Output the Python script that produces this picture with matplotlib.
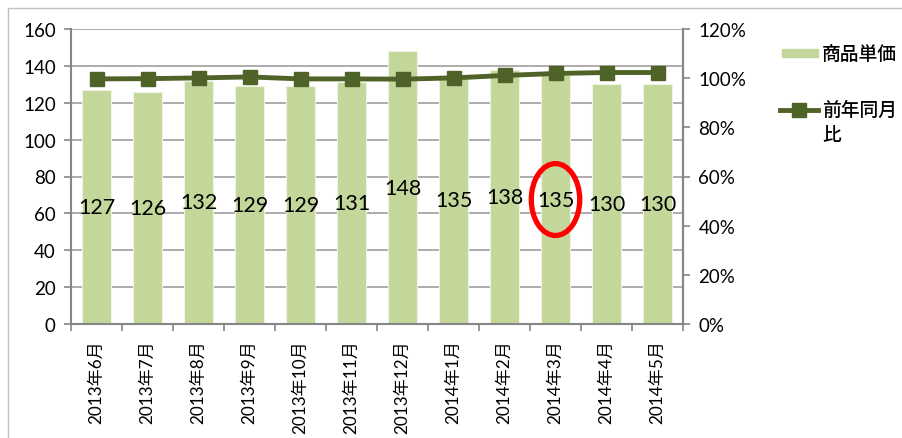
import matplotlib.pyplot as plt
import numpy as np
from matplotlib.patches import Ellipse, Rectangle

plt.rcParams["font.family"] = ["Lato", "Noto Sans CJK JP", "DejaVu Sans"]

months = ["2013年6月", "2013年7月", "2013年8月", "2013年9月", "2013年10月",
          "2013年11月", "2013年12月", "2014年1月", "2014年2月", "2014年3月",
          "2014年4月", "2014年5月"]
unit_price = [127, 126, 132, 129, 129, 131, 148, 135, 138, 135, 130, 130]
yoy_pct = [99.7, 99.8, 100.1, 100.5, 99.7, 99.7, 99.6, 100.1, 101.1, 101.9, 102.3, 102.3]

BAR_COLOR = "#c4d79b"
LINE_COLOR = "#4f6228"
GRID = "#a6a6a6"
SPINE = "#868686"

fig = plt.figure(figsize=(9.02, 4.39), dpi=100)
fig.patches.append(Rectangle((8 / 902, -0.05), 1.1, 1 - 9 / 439 + 0.05,
                             transform=fig.transFigure, fill=False,
                             edgecolor="#bfbfbf", linewidth=1.0))

ax = fig.add_axes([71 / 902, 114 / 439, 612 / 902, 295 / 439])
x = np.arange(len(months))
ax.bar(x, unit_price, width=0.58, color=BAR_COLOR, zorder=2,
       edgecolor="#eef3e2", linewidth=0.8)
ax.set_xlim(-0.5, len(months) - 0.5)
ax.set_ylim(0, 160)
ax.set_yticks(range(0, 161, 20))
ax.yaxis.grid(True, color=GRID, linewidth=1.3, zorder=0)
ax.set_axisbelow(True)

for xi, v in zip(x, unit_price):
    ax.text(xi, v / 2, str(v), ha="center", va="center", fontsize=15.5, zorder=4)

ax.set_xticks(x)
ax.set_xticklabels(months, rotation=90, fontsize=12.3)
ax.set_xticks(np.arange(-0.5, len(months)), minor=True)
ax.tick_params(axis="x", which="major", length=0, pad=11)
ax.tick_params(axis="x", which="minor", length=5, color=SPINE, width=1.2)
ax.tick_params(axis="y", labelsize=13.5, length=5, color=SPINE, width=1.2, pad=6)
ax.spines["top"].set_visible(False)
for side in ("left", "bottom", "right"):
    ax.spines[side].set_color(SPINE)
    ax.spines[side].set_linewidth(1.5)

ax2 = ax.twinx()
ax2.plot(x, yoy_pct, color=LINE_COLOR, linewidth=3.5, marker="s",
         markersize=10.5, zorder=5)
ax2.set_ylim(0, 120)
ax2.set_yticks(range(0, 121, 20))
ax2.set_yticklabels([f"{t}%" for t in range(0, 121, 20)])
ax2.tick_params(axis="y", labelsize=13.5, length=5, color=SPINE, width=1.2, pad=6)
for side in ("top", "left", "bottom"):
    ax2.spines[side].set_visible(False)
ax2.spines["right"].set_color(SPINE)
ax2.spines["right"].set_linewidth(1.5)

# red highlight around 2014年3月
ax.add_patch(Ellipse((9, 67.5), 0.95, 39, fill=False, edgecolor="#ff0000",
                     linewidth=3.8, zorder=6, clip_on=False))

# legend (manual, to the right of the plot)
fig.patches.append(Rectangle((782 / 902, 1 - 58 / 439), 36 / 902, 8 / 439,
                             transform=fig.transFigure, color=BAR_COLOR))
fig.text(822 / 902, 1 - 54 / 439, "商品単価", fontsize=13.5,
         va="center", ha="left", fontweight="medium")
fig.lines.append(plt.Line2D([780 / 902, 818 / 902], [1 - 111 / 439] * 2,
                            transform=fig.transFigure, color=LINE_COLOR,
                            linewidth=3.5))
fig.lines.append(plt.Line2D([799 / 902], [1 - 111 / 439],
                            transform=fig.transFigure, color=LINE_COLOR,
                            marker="s", markersize=10.5, linestyle="none"))
fig.text(822 / 902, 1 - 110 / 439, "前年同月", fontsize=13.5,
         va="center", ha="left", fontweight="medium")
fig.text(822 / 902, 1 - 135 / 439, "比", fontsize=13.5,
         va="center", ha="left", fontweight="medium")

fig.savefig("out.png", dpi=100)
